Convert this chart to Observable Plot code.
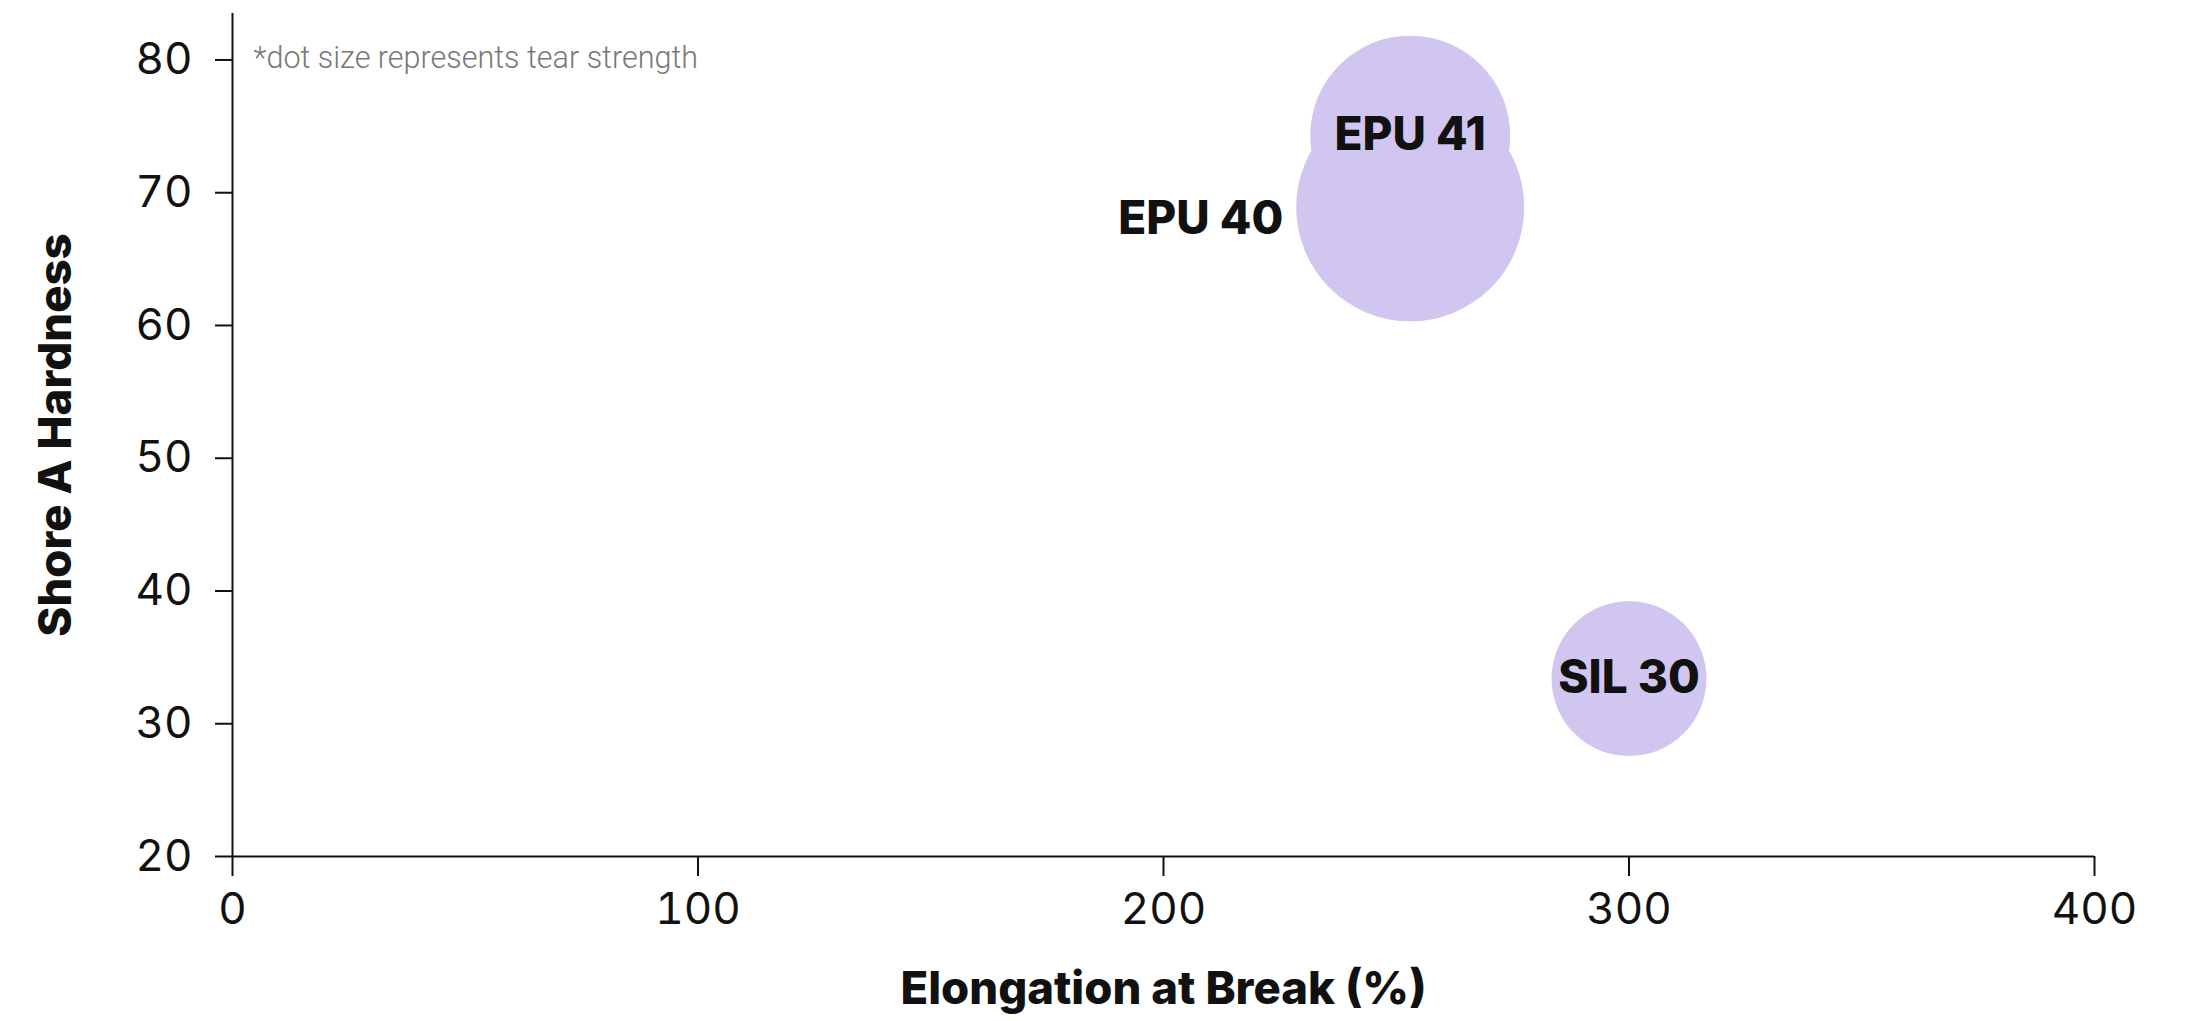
<!DOCTYPE html>
<html><head><meta charset="utf-8">
<script src="https://cdn.jsdelivr.net/npm/d3@7"></script>
<script src="https://cdn.jsdelivr.net/npm/@observablehq/plot@0.6"></script>
<style>
html,body{margin:0;padding:0;background:#fff;}
#chart svg{display:block;}
</style></head>
<body><div id="chart"></div>
<script>
// ---- data ----
const materials = ["EPU 40", "EPU 41", "SIL 30"];
const elongation = [253, 253, 300];      // Elongation at Break (%)
const hardness = [68.9, 74.3, 33.4];      // Shore A Hardness
const tearStrength = [26, 20, 12];        // dot size
const xTicks = [0, 100, 200, 300, 400];
const yTicks = [20, 30, 40, 50, 60, 70, 80];
const xLabel = "Elongation at Break (%)";
const yLabel = "Shore A Hardness";
const caption = "*dot size represents tear strength";

const data = materials.map((name, i) => ({name, elongation: elongation[i], hardness: hardness[i], tear: tearStrength[i]}));
const leftLabelled = ["EPU 40"];

const INK = "#111111";
const FILL = "#D1C6F0";

const chart = Plot.plot({
  width: 2197,
  height: 1021,
  marginTop: 13,
  marginBottom: 165,
  marginLeft: 232,
  marginRight: 103,
  style: {fontFamily: "Inter, 'Liberation Sans', sans-serif", background: "#fff", color: INK},
  x: {domain: [0, 400]},
  y: {domain: [20, 83.5]},
  r: {type: "sqrt", domain: [0, 26], range: [0, 114]},
  marks: [
    Plot.dot(data, {x: "elongation", y: "hardness", r: "tear", fill: FILL, stroke: null}),
    Plot.ruleX([0], {stroke: INK, strokeWidth: 2}),
    Plot.ruleY([20], {stroke: INK, strokeWidth: 2}),
    Plot.axisX({ticks: xTicks, tickSize: 20, tickPadding: 16, fontSize: 44, strokeWidth: 2, stroke: INK, fill: INK, label: null, tickFormat: d => String(d)}),
    Plot.axisY({ticks: yTicks, tickSize: 17, tickPadding: 23, fontSize: 44, strokeWidth: 2, stroke: INK, fill: INK, label: null, tickFormat: d => String(d)}),
    Plot.text(data.filter(d => !leftLabelled.includes(d.name)), {
      x: "elongation", y: "hardness", text: "name",
      fontSize: 46, fontWeight: 800, fill: INK, textAnchor: "middle", lineAnchor: "middle"
    }),
    Plot.text(data.filter(d => leftLabelled.includes(d.name)), {
      x: "elongation", y: "hardness", text: "name",
      fontSize: 46, fontWeight: 800, fill: INK, textAnchor: "end", lineAnchor: "middle", dx: -127, dy: 12
    }),
    Plot.text([xLabel], {frameAnchor: "bottom", text: d => d, dy: 133, fontSize: 45.5, fontWeight: 800, fill: INK, textAnchor: "middle", lineAnchor: "middle"}),
    Plot.text([yLabel], {frameAnchor: "left", text: d => d, dx: -176, rotate: -90, fontSize: 45.5, fontWeight: 800, fill: INK, textAnchor: "middle", lineAnchor: "middle"}),
    Plot.text([caption], {frameAnchor: "top-left", text: d => d, dx: 21, dy: 45, fontSize: 30.5, fontWeight: 300, fontFamily: "Roboto, sans-serif", fill: "#777777", textAnchor: "start", lineAnchor: "middle"})
  ]
});
document.getElementById("chart").appendChild(chart);
</script>
</body></html>
